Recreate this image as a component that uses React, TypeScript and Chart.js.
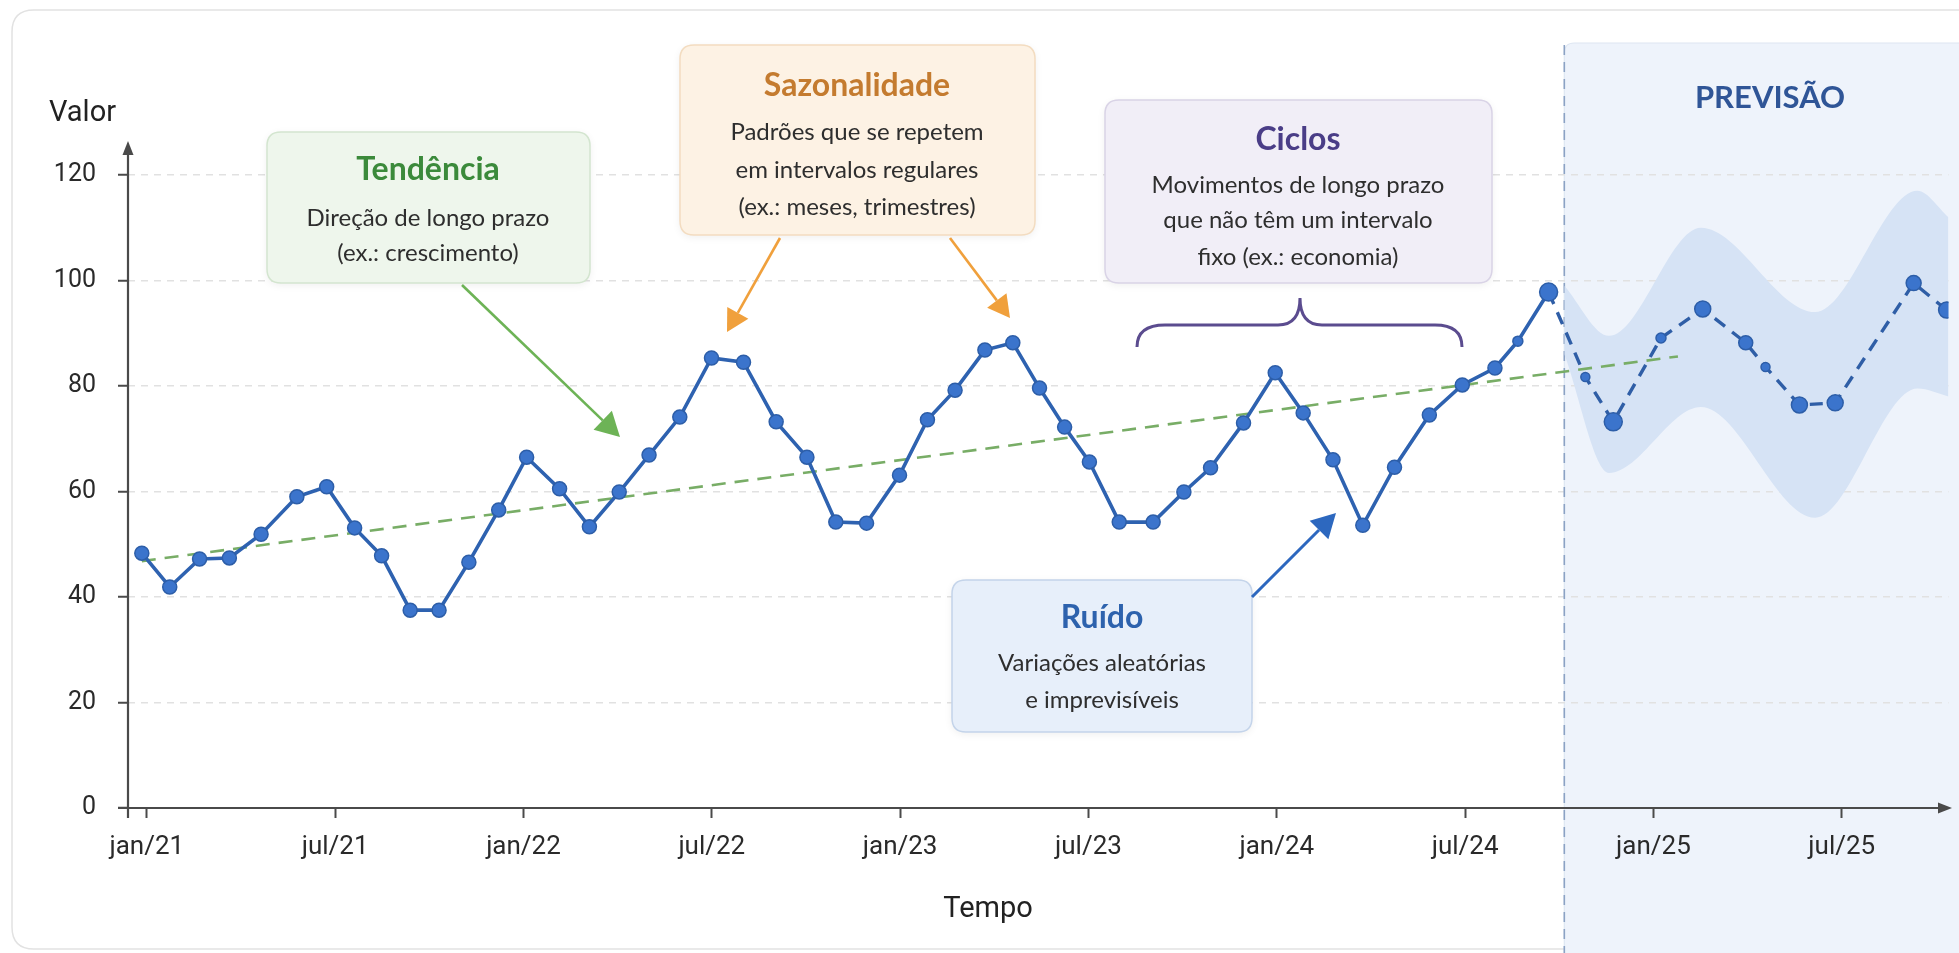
import React, { useEffect, useRef } from "react";
import { Chart, registerables } from "chart.js";

Chart.register(...registerables);

// ---- data (time in months since jan/21) ----
const X_TICK_POS = [0, 6, 12, 18, 24, 30, 36, 42, 48, 54];
const X_TICK_LABELS = ["jan/21", "jul/21", "jan/22", "jul/22", "jan/23", "jul/23", "jan/24", "jul/24", "jan/25", "jul/25"];
const Y_TICKS = [0, 20, 40, 60, 80, 100, 120];

const HIST_T = [-0.16, 0.73, 1.68, 2.63, 3.64, 4.78, 5.73, 6.62, 7.48, 8.39, 9.31, 10.26, 11.21, 12.1, 13.15, 14.1, 15.05, 16.0, 16.98, 17.99, 19.01, 20.05, 21.03, 21.95, 22.93, 23.98, 24.87, 25.75, 26.7, 27.59, 28.44, 29.24, 30.03, 30.98, 32.06, 33.04, 33.89, 34.94, 35.95, 36.84, 37.79, 38.74, 39.75, 40.86, 41.91, 42.95, 43.68, 44.66];
const HIST_V = [48.3, 41.9, 47.2, 47.4, 51.9, 59.0, 60.9, 53.1, 47.8, 37.5, 37.5, 46.6, 56.5, 66.5, 60.5, 53.3, 59.9, 66.9, 74.1, 85.3, 84.5, 73.2, 66.5, 54.2, 54.0, 63.1, 73.6, 79.2, 86.8, 88.2, 79.6, 72.2, 65.6, 54.2, 54.2, 59.9, 64.5, 73.0, 82.5, 74.9, 66.0, 53.6, 64.6, 74.5, 80.2, 83.4, 88.5, 97.8];

const FC_T = [44.66, 45.83, 46.72, 48.24, 49.57, 50.94, 51.57, 52.65, 53.79, 56.29, 57.34];
const FC_V = [97.8, 81.7, 73.2, 89.1, 94.6, 88.2, 83.6, 76.4, 76.8, 99.5, 94.4];

const BAND_T = [45.16, 46.58, 49.51, 53.15, 56.41, 57.4];
const BAND_HI = [99, 89.5, 110, 94, 117, 112];
const BAND_LO = [86, 63.5, 76, 55, 79.5, 78];

const TREND_T = [-0.16, 48.78];
const TREND_V = [46.8, 85.6];

const W = 1959;
const H = 953;

function rr(ctx: CanvasRenderingContext2D, x: number, y: number, w: number, h: number, r: number) {
  ctx.beginPath();
  ctx.moveTo(x + r, y);
  ctx.lineTo(x + w - r, y);
  ctx.quadraticCurveTo(x + w, y, x + w, y + r);
  ctx.lineTo(x + w, y + h - r);
  ctx.quadraticCurveTo(x + w, y + h, x + w - r, y + h);
  ctx.lineTo(x + r, y + h);
  ctx.quadraticCurveTo(x, y + h, x, y + h - r);
  ctx.lineTo(x, y + r);
  ctx.quadraticCurveTo(x, y, x + r, y);
  ctx.closePath();
}

function arrow(ctx: CanvasRenderingContext2D, x1: number, y1: number, x2: number, y2: number, color: string, width: number, head: number) {
  const a = Math.atan2(y2 - y1, x2 - x1);
  const bx = x2 - Math.cos(a) * head;
  const by = y2 - Math.sin(a) * head;
  ctx.save();
  ctx.strokeStyle = color;
  ctx.fillStyle = color;
  ctx.lineWidth = width;
  ctx.setLineDash([]);
  ctx.beginPath();
  ctx.moveTo(x1, y1);
  ctx.lineTo(bx, by);
  ctx.stroke();
  const hw = head * 0.55;
  ctx.beginPath();
  ctx.moveTo(x2, y2);
  ctx.lineTo(bx + Math.sin(a) * hw, by - Math.cos(a) * hw);
  ctx.lineTo(bx - Math.sin(a) * hw, by + Math.cos(a) * hw);
  ctx.closePath();
  ctx.fill();
  ctx.restore();
}

function txt(ctx: CanvasRenderingContext2D, s: string, x: number, y: number, font: string, color: string, align: CanvasTextAlign = "center") {
  ctx.font = font;
  ctx.fillStyle = color;
  ctx.textAlign = align;
  ctx.textBaseline = "middle";
  ctx.fillText(s, x, y);
}

function box(ctx: CanvasRenderingContext2D, x: number, y: number, w: number, h: number, fill: string, stroke: string) {
  ctx.save();
  ctx.shadowColor = "rgba(0,0,0,0.07)";
  ctx.shadowBlur = 8;
  ctx.shadowOffsetY = 2;
  rr(ctx, x, y, w, h, 14);
  ctx.fillStyle = fill;
  ctx.fill();
  ctx.restore();
  ctx.save();
  rr(ctx, x, y, w, h, 14);
  ctx.strokeStyle = stroke;
  ctx.lineWidth = 1.5;
  ctx.stroke();
  ctx.restore();
}

export default function App() {
  const ref = useRef<HTMLCanvasElement>(null);

  useEffect(() => {
    document.body.style.margin = "0";
    const canvas = ref.current!;
    const pts = (t: number[], v: number[]) => t.map((x, i) => ({ x, y: v[i] }));

    const histR = HIST_T.map((_, i) => (i === HIST_T.length - 1 ? 9 : i === 46 ? 5 : 7));
    const fcR = [0, 4.5, 9, 5, 8, 7, 4.5, 8, 8, 7.5, 8];

    const TITLE = "bold 32px Lato";
    const BODY = "24px Lato";
    const BODYC = "#2e2e2e";

    const decor = {
      id: "decor",
      beforeDraw(chart: any) {
        const ctx: CanvasRenderingContext2D = chart.ctx;
        const xb = chart.scales.x.getPixelForValue(BAND_T[0]);
        ctx.save();
        ctx.fillStyle = "#ffffff";
        ctx.fillRect(0, 0, W, H);
        rr(ctx, 12, 10, 1990, 939, 22);
        ctx.strokeStyle = "#e2e2e2";
        ctx.lineWidth = 1.5;
        ctx.stroke();
        rr(ctx, xb, 43, W - xb + 30, H, 10);
        ctx.fillStyle = "#eef3fb";
        ctx.fill();
        ctx.strokeStyle = "#dde6f2";
        ctx.lineWidth = 1.2;
        ctx.stroke();
        ctx.restore();
      },
      beforeDatasetsDraw(chart: any) {
        const ctx: CanvasRenderingContext2D = chart.ctx;
        const ca = chart.chartArea;
        const xb = chart.scales.x.getPixelForValue(BAND_T[0]);
        ctx.save();
        ctx.setLineDash([10, 7]);
        ctx.strokeStyle = "#8ba2c4";
        ctx.lineWidth = 1.6;
        ctx.beginPath();
        ctx.moveTo(xb, 45);
        ctx.lineTo(xb, H);
        ctx.stroke();
        ctx.setLineDash([]);
        ctx.strokeStyle = "#4a4a4a";
        ctx.fillStyle = "#4a4a4a";
        ctx.lineWidth = 2.2;
        ctx.beginPath();
        ctx.moveTo(ca.left, ca.bottom + 10);
        ctx.lineTo(ca.left, ca.top + 2);
        ctx.stroke();
        ctx.beginPath();
        ctx.moveTo(ca.left, ca.top - 6);
        ctx.lineTo(ca.left - 5.5, ca.top + 8);
        ctx.lineTo(ca.left + 5.5, ca.top + 8);
        ctx.closePath();
        ctx.fill();
        ctx.beginPath();
        ctx.moveTo(ca.left - 10, ca.bottom);
        ctx.lineTo(1942, ca.bottom);
        ctx.stroke();
        ctx.beginPath();
        ctx.moveTo(1952, ca.bottom);
        ctx.lineTo(1938, ca.bottom - 5.5);
        ctx.lineTo(1938, ca.bottom + 5.5);
        ctx.closePath();
        ctx.fill();
        ctx.restore();
      },
      afterDraw(chart: any) {
        const ctx: CanvasRenderingContext2D = chart.ctx;
        ctx.save();
        txt(ctx, "Valor", 49, 114, "29px Roboto", "#222", "left");
        txt(ctx, "Tempo", 988, 910, "29px Roboto", "#222");
        txt(ctx, "PREVISÃO", 1770, 98, "bold 31px Lato", "#2f5597");

        box(ctx, 267, 132, 323, 151, "#eef6ec", "#d3e5cf");
        txt(ctx, "Tendência", 428, 170, TITLE, "#3b8a3b");
        txt(ctx, "Direção de longo prazo", 428, 218, BODY, BODYC);
        txt(ctx, "(ex.: crescimento)", 428, 253, BODY, BODYC);
        arrow(ctx, 462, 285, 620, 437, "#6db356", 2.6, 24);

        box(ctx, 680, 45, 355, 190, "#fdf2e4", "#f3dcc0");
        txt(ctx, "Sazonalidade", 857, 86, TITLE, "#c47b2f");
        txt(ctx, "Padrões que se repetem", 857, 132, BODY, BODYC);
        txt(ctx, "em intervalos regulares", 857, 170, BODY, BODYC);
        txt(ctx, "(ex.: meses, trimestres)", 857, 207, BODY, BODYC);
        arrow(ctx, 780, 238, 727, 332, "#f0a03c", 2.6, 22);
        arrow(ctx, 950, 238, 1010, 318, "#f0a03c", 2.6, 22);

        box(ctx, 1105, 100, 387, 183, "#f1eef7", "#d9d3e6");
        txt(ctx, "Ciclos", 1298, 140, TITLE, "#4a3d87");
        txt(ctx, "Movimentos de longo prazo", 1298, 185, BODY, BODYC);
        txt(ctx, "que não têm um intervalo", 1298, 220, BODY, BODYC);
        txt(ctx, "fixo (ex.: economia)", 1298, 257, BODY, BODYC);
        ctx.strokeStyle = "#5b4c8f";
        ctx.lineWidth = 3;
        ctx.setLineDash([]);
        ctx.beginPath();
        ctx.moveTo(1137, 347);
        ctx.quadraticCurveTo(1137, 325, 1165, 325);
        ctx.lineTo(1278, 325);
        ctx.quadraticCurveTo(1300, 325, 1300, 298);
        ctx.quadraticCurveTo(1300, 325, 1322, 325);
        ctx.lineTo(1435, 325);
        ctx.quadraticCurveTo(1462, 325, 1462, 347);
        ctx.stroke();

        box(ctx, 952, 580, 300, 152, "#e7effa", "#c4d4ea");
        txt(ctx, "Ruído", 1102, 618, TITLE, "#2d62ad");
        txt(ctx, "Variações aleatórias", 1102, 663, BODY, BODYC);
        txt(ctx, "e imprevisíveis", 1102, 700, BODY, BODYC);
        arrow(ctx, 1252, 597, 1336, 513, "#2d68bf", 3, 24);
        ctx.restore();
      },
    };

    const chart = new Chart(canvas, {
      type: "line",
      data: {
        datasets: [
          {
            label: "upper",
            data: pts(BAND_T, BAND_HI),
            borderWidth: 0,
            pointRadius: 0,
            fill: "+1",
            backgroundColor: "#d6e3f5",
            cubicInterpolationMode: "monotone",
            order: 10,
          },
          {
            label: "lower",
            data: pts(BAND_T, BAND_LO),
            borderWidth: 0,
            pointRadius: 0,
            fill: false,
            cubicInterpolationMode: "monotone",
            order: 9,
          },
          {
            label: "trend",
            data: pts(TREND_T, TREND_V),
            borderColor: "#78ad66",
            borderWidth: 2.6,
            borderDash: [14, 9],
            pointRadius: 0,
            fill: false,
            order: 5,
          },
          {
            label: "forecast",
            data: pts(FC_T, FC_V),
            borderColor: "#2f5ea6",
            borderWidth: 3.4,
            borderDash: [13, 9],
            pointRadius: fcR,
            pointBackgroundColor: "#3b74cc",
            pointBorderColor: "#2d5ea8",
            pointBorderWidth: 1.5,
            fill: false,
            tension: 0,
            order: 2,
          },
          {
            label: "hist",
            data: pts(HIST_T, HIST_V),
            borderColor: "#2e62b0",
            borderWidth: 3.6,
            pointRadius: histR,
            pointBackgroundColor: "#3b74cc",
            pointBorderColor: "#2d5ea8",
            pointBorderWidth: 1.5,
            fill: false,
            tension: 0,
            order: 1,
          },
        ],
      },
      options: {
        animation: false,
        responsive: false,
        events: [],
        layout: { padding: { top: 147, left: 0, right: 0, bottom: 0 } },
        plugins: { legend: { display: false }, tooltip: { enabled: false } },
        scales: {
          x: {
            type: "linear",
            min: -0.6,
            max: 57.4,
            afterBuildTicks: (s: any) => {
              s.ticks = X_TICK_POS.map((v) => ({ value: v }));
            },
            afterFit: (s: any) => {
              s.height = H - 808;
            },
            ticks: {
              autoSkip: false,
              maxRotation: 0,
              padding: 14,
              color: "#2a2a2a",
              font: { family: "Roboto", size: 26 },
              callback: (v: any) => {
                const i = X_TICK_POS.indexOf(Number(v));
                return i >= 0 ? X_TICK_LABELS[i] : "";
              },
            },
            grid: {
              drawOnChartArea: false,
              drawTicks: true,
              tickLength: 10,
              tickColor: "#4a4a4a",
              tickWidth: 2,
            },
            border: { display: false },
          },
          y: {
            type: "linear",
            min: 0,
            max: 125.3,
            afterBuildTicks: (s: any) => {
              s.ticks = Y_TICKS.map((v) => ({ value: v }));
            },
            afterFit: (s: any) => {
              s.width = 128;
            },
            ticks: {
              padding: 22,
              color: "#2a2a2a",
              font: { family: "Roboto", size: 25 },
            },
            grid: {
              color: "#e1e1e1",
              lineWidth: 1.5,
              drawTicks: true,
              tickLength: 10,
              tickColor: "#4a4a4a",
              tickWidth: 2,
              tickBorderDash: [],
            },
            border: { display: false, dash: [7, 6] },
          },
        },
      },
      plugins: [decor],
    } as any);

    return () => chart.destroy();
  }, []);

  return <canvas ref={ref} width={W} height={H} style={{ display: "block", width: W, height: H }} />;
}
